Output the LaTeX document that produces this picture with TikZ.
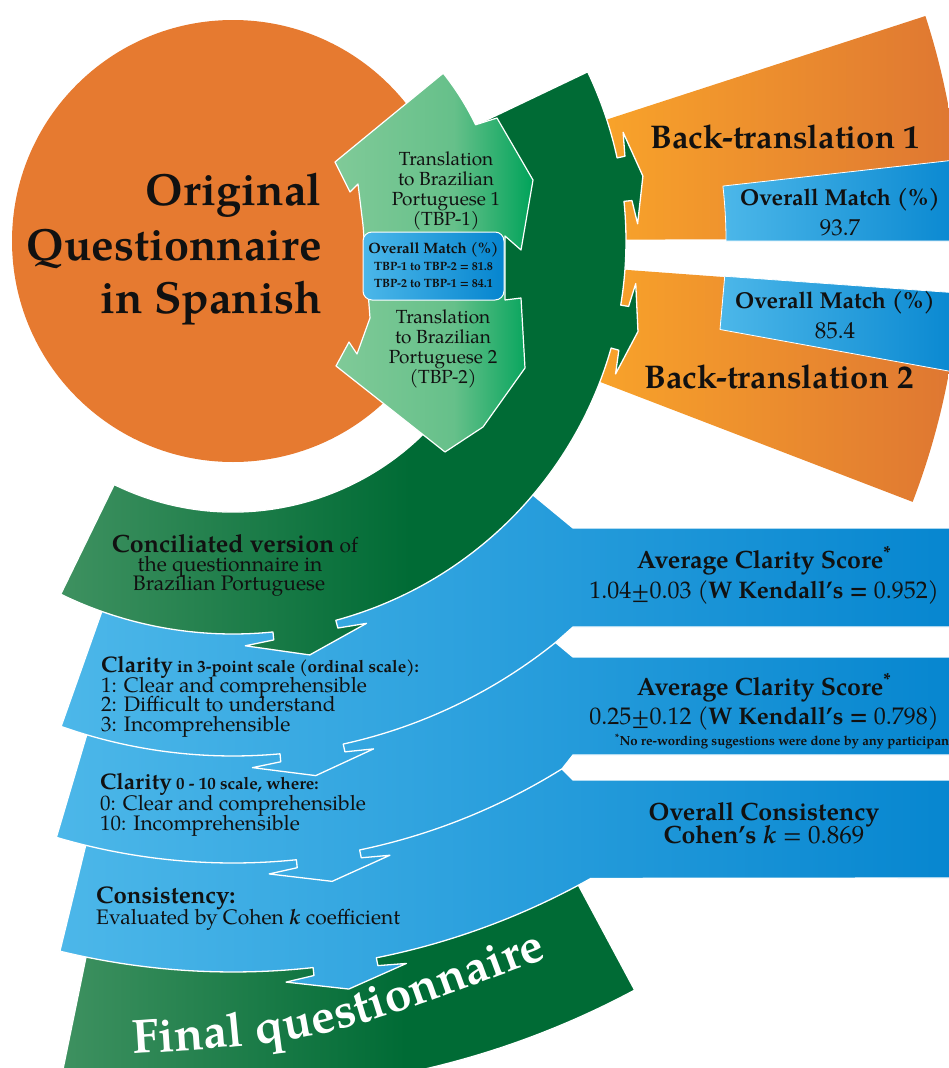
\documentclass[tikz,border=0pt]{standalone}
\usepackage{fontspec}
\setmainfont{texgyrepagella}[Extension=.otf,UprightFont=*-regular,BoldFont=*-bold,ItalicFont=*-italic,BoldItalicFont=*-bolditalic]
\usetikzlibrary{calc,decorations.text}
\definecolor{orng}{HTML}{E67A30}
\definecolor{btL}{HTML}{F9A42A}
\definecolor{btR}{HTML}{DE7632}
\definecolor{dgL}{HTML}{3E9160}
\definecolor{dgR}{HTML}{006B35}
\definecolor{lgL}{HTML}{80CA98}
\definecolor{lgM}{HTML}{66C08A}
\definecolor{lgR}{HTML}{00A35A}
\definecolor{blL}{HTML}{4CB7E9}
\definecolor{blR}{HTML}{0585CF}
\definecolor{txt}{HTML}{111111}
\pgfdeclarehorizontalshading{dgshade}{100bp}{color(0bp)=(dgL); color(25bp)=(dgL); color(55bp)=(dgR); color(100bp)=(dgR)}
\pgfdeclarehorizontalshading{lgshade}{100bp}{color(0bp)=(lgL); color(25bp)=(lgL); color(55bp)=(lgM); color(75bp)=(lgR); color(100bp)=(lgR)}
\newcommand\fsz[1]{\fontsize{#1}{#1}\selectfont}
\begin{document}
\begin{tikzpicture}[x=1pt,y=1pt,line join=round,
  band/.style={draw=white,line width=1.3pt},
  lbl/.style={inner sep=0pt,text=txt},
  arr/.style n args={6}{insert path={
    -- ({#1-(#3)*(#4)*57.2958/(#2)}:{(#2)+8})
    -- ({#1-(#3)*(#5)*57.2958/(#2)}:{(#2)+12})
    -- ({#1}:{(#2)+(#6)})
    -- ({#1+(#3)*(#5)*57.2958/(#2)}:{(#2)+12})
    -- ({#1+(#3)*(#4)*57.2958/(#2)}:{(#2)+8})
    -- ({#1+(#3)*(#4)*57.2958/(#2)}:{#2})}}]
\path[use as bounding box] (0,0) rectangle (949,-1068);
\clip (0,0) rectangle (949,-1068);
\begin{scope}[shift={(233,-241)}]
% Final questionnaire band
\path[band,shade,shading=dgshade] (-101.6:728) -- (-101.6:850) arc[start angle=-101.6,end angle=-61.8,radius=850pt] -- (-61.8:728) arc[start angle=-61.8,end angle=-101.6,radius=728pt] -- cycle;
% Consistency band
\path[band,left color=blL,right color=blR] (-103.7:605) -- (-103.7:731) arc[start angle=-103.7,end angle={-81.2-32*57.2958/731},radius=731pt] [arr={-81.2}{731}{1}{32}{60}{26}] arc[start angle={-81.2+32*57.2958/731},end angle=-60.7,radius=731pt] -- (740,-637) -- (740,-539) -- (340,-539) -- (330,-529) -- (-58:605) arc[start angle=-58,end angle=-103.7,radius=605pt] -- cycle;
% Clarity 0-10 band
\path[band,left color=blL,right color=blR] (-106.5:500) -- (-106.5:622) arc[start angle=-106.5,end angle={-81.2-32*57.2958/622},radius=622pt] [arr={-81.2}{622}{1}{32}{60}{26}] arc[start angle={-81.2+32*57.2958/622},end angle=-58.05,radius=622pt] -- (340,-514) -- (740,-514) -- (740,-416) -- (340,-416) -- (322,-401) -- (-51.2:500) arc[start angle=-51.2,end angle=-106.5,radius=500pt] -- cycle;
% Clarity 3-point band
\path[band,left color=blL,right color=blR] (-109.5:380) -- (-109.5:515) arc[start angle=-109.5,end angle={-81.2-32*57.2958/515},radius=515pt] [arr={-81.2}{515}{1}{32}{60}{26}] arc[start angle={-81.2+32*57.2958/515},end angle=-51.2,radius=515pt] -- (340,-386) -- (740,-386) -- (740,-287) -- (340,-287) -- (300,-254) -- (-40.25:380) arc[start angle=-40.25,end angle=-109.5,radius=380pt] -- cycle;
% Back-translation sectors
\path[left color=btL,right color=btR] (18:380) -- (18:728) arc[start angle=18,end angle=0.2,radius=728pt] -- (0.2:380) -- cycle;
\path[left color=btL,right color=btR] (-4.2:380) -- (-4.2:728) arc[start angle=-4.2,end angle=-21,radius=728pt] -- (-21:380) -- cycle;
% match boxes
\path[draw=white,line width=0.8pt,left color=blL,right color=blR] (0:493) -- (0:740) -- (6.4:740) -- (6.4:493) arc[start angle=6.4,end angle=0,radius=493pt] -- cycle;
\path[draw=white,line width=0.8pt,left color=blL,right color=blR] (-4.1:493) -- (-4.1:740) -- (-10.3:740) -- (-10.3:495) -- cycle;
% dark green band
\path[band,shade,shading=dgshade] (25.5:271) -- (25.5:393)
  arc[start angle=25.5,end angle={9+22*57.2958/393},radius=393pt]
  [arr={9}{393}{-1}{22}{45}{22}]
  arc[start angle={9-22*57.2958/393},end angle={-12.6+22*57.2958/393},radius=393pt]
  [arr={-12.6}{393}{-1}{22}{45}{22}]
  arc[start angle={-12.6-22*57.2958/393},end angle={-79.5+32*57.2958/393},radius=393pt]
  [arr={-79.5}{393}{-1}{32}{60}{28}]
  arc[start angle={-79.5-32*57.2958/393},end angle=-116,radius=393pt]
  -- (-116:271) arc[start angle=-116,end angle=25.5,radius=271pt] -- cycle;
% orange circle
\fill[orng] (0,0) circle[radius=221pt];
% light green translation arrows
\path[draw=white,line width=1.2pt,shade,shading=lgshade] (38.6:269) arc[start angle=38.6,end angle=25.6,radius=269pt]
  -- (264,123) -- (300,61) -- (288,-9) -- (272,5) -- (272,-59) -- (288,-57) -- (292,-127) -- (250,-186)
  -- (212,-211) -- (103,-125) -- (116,-101) -- (124,-113) -- (137,-77) -- (130,16) -- (125,57) -- (117,49) -- (102,79) -- cycle;
\end{scope}
% TBP match box
\node[draw=white,line width=1pt,rounded corners=9pt,left color=blL,right color=blR,minimum width=141pt,minimum height=68pt,inner sep=0pt] (tbpbox) at (433.5,-266) {};
% texts
\node[lbl,anchor=base east,font=\fsz{45}\bfseries] (o1) at (322,-205) {Original};
\node[lbl,anchor=base east,font=\fsz{45}\bfseries] (o2) at (322,-260) {Questionnaire};
\node[lbl,anchor=base east,font=\fsz{45}\bfseries] (o3) at (322,-313) {in Spanish};
\node[lbl,anchor=base,font=\fsz{19}] (ta1) at (446,-165) {Translation};
\node[lbl,anchor=base,font=\fsz{19}] (ta2) at (446,-185) {to Brazilian};
\node[lbl,anchor=base,font=\fsz{19}] (ta3) at (446,-205) {Portuguese 1};
\node[lbl,anchor=base,font=\fsz{19}] (ta4) at (446,-225) {(TBP-1)};
\node[lbl,anchor=base,font=\fsz{19}] (tb1) at (443,-323) {Translation};
\node[lbl,anchor=base,font=\fsz{19}] (tb2) at (443,-343) {to Brazilian};
\node[lbl,anchor=base,font=\fsz{19}] (tb3) at (443,-363) {Portuguese 2};
\node[lbl,anchor=base,font=\fsz{19}] (tb4) at (443,-383) {(TBP-2)};
\node[lbl,anchor=base,font=\fsz{15}\bfseries] (mm1) at (433.5,-253) {Overall Match (\%)};
\node[lbl,anchor=base,font=\fsz{12}\bfseries] (mm2) at (433.5,-270) {TBP-1 to TBP-2 = 81.8};
\node[lbl,anchor=base,font=\fsz{12}\bfseries] (mm3) at (433.5,-287) {TBP-2 to TBP-1 = 84.1};
\node[lbl,anchor=base,font=\fsz{32.8}\bfseries] (bt1) at (785,-148) {Back-translation 1};
\node[lbl,anchor=base,font=\fsz{23}\bfseries] (b1a) at (840,-205) {Overall Match (\%)};
\node[lbl,anchor=base,font=\fsz{23}] (b1b) at (840,-235) {93.7};
\node[lbl,anchor=base,font=\fsz{23}\bfseries] (b2a) at (835,-308) {Overall Match (\%)};
\node[lbl,anchor=base,font=\fsz{23}] (b2b) at (835,-338) {85.4};
\node[lbl,anchor=base,font=\fsz{32.8}\bfseries] (bt2) at (779,-388) {Back-translation 2};
\node[lbl,anchor=base,font=\fsz{21}] (cv1) at (235,-552) {{\fsz{25}\bfseries Conciliated version} of};
\node[lbl,anchor=base,font=\fsz{21}] (cv2) at (230,-571) {the questionnaire in};
\node[lbl,anchor=base,font=\fsz{21}] (cv3) at (229,-590) {Brazilian Portuguese};
\node[lbl,anchor=base west,font=\fsz{17}\bfseries] (c1a) at (101,-672) {{\fsz{22.5}Clarity} in 3-point scale (ordinal scale):};
\node[lbl,anchor=base west,font=\fsz{21}] (c1b) at (101,-692) {1: Clear and comprehensible};
\node[lbl,anchor=base west,font=\fsz{21}] (c1c) at (101,-711) {2: Difficult to understand};
\node[lbl,anchor=base west,font=\fsz{21}] (c1d) at (101,-731) {3: Incomprehensible};
\node[lbl,anchor=base west,font=\fsz{17}\bfseries] (c2a) at (100,-789) {{\fsz{22.5}Clarity} 0 - 10 scale, where:};
\node[lbl,anchor=base west,font=\fsz{21}] (c2b) at (100,-810) {0: Clear and comprehensible};
\node[lbl,anchor=base west,font=\fsz{21}] (c2c) at (100,-830) {10: Incomprehensible};
\node[lbl,anchor=base west,font=\fsz{24}\bfseries] (c3a) at (96,-903) {Consistency:};
\node[lbl,anchor=base west,font=\fsz{21}] (c3b) at (96,-924) {Evaluated by Cohen \textbf{\textit{k}} coefficient};
\node[lbl,anchor=base,font=\fsz{25}\bfseries] (r1a) at (764,-568) {Average Clarity Score\textsuperscript{*}};
\node[lbl,anchor=base,font=\fsz{24}] (r1b) at (764,-598) {1.04±0.03 (\textbf{W Kendall’s =} 0.952)};
\node[lbl,anchor=base,font=\fsz{25}\bfseries] (r2a) at (764,-695) {Average Clarity Score\textsuperscript{*}};
\node[lbl,anchor=base,font=\fsz{24}] (r2b) at (764,-724) {0.25±0.12 (\textbf{W Kendall’s =} 0.798)};
\node[lbl,anchor=base west,font=\fsz{13.2}\bfseries] (fn) at (615,-745) {\textsuperscript{*}No re-wording sugestions were done by any participant};
\node[lbl,anchor=base,font=\fsz{25}\bfseries] (r3a) at (764,-820) {Overall Consistency};
\node[lbl,anchor=base,font=\fsz{25}] (r3b) at (764,-843) {\textbf{Cohen’s \textit{k}} = 0.869};
\path[decorate,decoration={text along path,text align=center,text={|\fsz{48}\bfseries\color{white}|Final questionnaire}}] (128,-1054) .. controls (320,-1042) .. (552,-956);
\end{tikzpicture}
\end{document}
